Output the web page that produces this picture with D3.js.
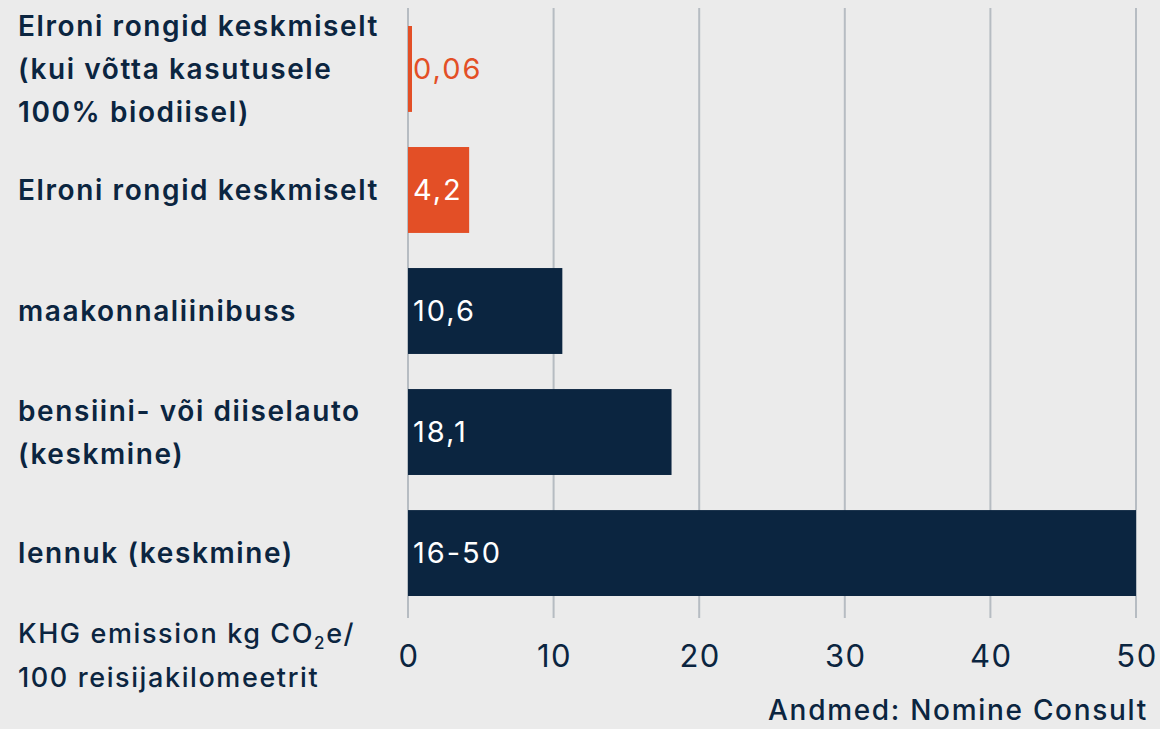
<!DOCTYPE html>
<html>
<head>
<meta charset="utf-8">
<script src="https://cdn.jsdelivr.net/npm/d3@7"></script>
<style>
  html, body { margin: 0; padding: 0; background: #ebebeb; }
  svg { display: block; }
  text { font-family: Inter, "Open Sans", sans-serif; fill: #0b2540; }
</style>
</head>
<body>
<div id="chart"></div>
<script>
// andmed
const categories = [
  "Elroni rongid keskmiselt (kui võtta kasutusele 100% biodiisel)",
  "Elroni rongid keskmiselt",
  "maakonnaliinibuss",
  "bensiini- või diiselauto (keskmine)",
  "lennuk (keskmine)"
];
const labelLines = [
  ["Elroni rongid keskmiselt", "(kui võtta kasutusele", "100% biodiisel)"],
  ["Elroni rongid keskmiselt"],
  ["maakonnaliinibuss"],
  ["bensiini- või diiselauto", "(keskmine)"],
  ["lennuk (keskmine)"]
];
const values = [0.06, 4.2, 10.6, 18.1, 50];
const valueLabels = ["0,06", "4,2", "10,6", "18,1", "16-50"];
const highlight = [true, true, false, false, false];
const ticks = [0, 10, 20, 30, 40, 50];

const W = 1160, H = 729;
const NAVY = "#0b2540", ORANGE = "#e34f26", GRID = "#b6bcc2";

const svg = d3.select("#chart").append("svg").attr("width", W).attr("height", H);
svg.append("rect").attr("width", W).attr("height", H).attr("fill", "#ebebeb");

const x = d3.scaleLinear().domain([0, 50]).range([408, 1136]);
const y = d3.scaleBand().domain(categories).range([26, 596]).paddingInner(0.29).paddingOuter(0);

// ruudustik
svg.append("g").selectAll("line").data(ticks).join("line")
  .attr("x1", d => x(d)).attr("x2", d => x(d))
  .attr("y1", 8).attr("y2", 618)
  .attr("stroke", GRID).attr("stroke-width", 2);

// telje sildid
svg.append("g").selectAll("text").data(ticks).join("text")
  .attr("x", d => x(d)).attr("y", 667).attr("dx", 1)
  .attr("text-anchor", "middle")
  .attr("font-size", 31).attr("letter-spacing", 1.5)
  .text(d => d);

// tulbad
svg.append("g").selectAll("rect").data(values).join("rect")
  .attr("x", x(0))
  .attr("y", (d, i) => y(categories[i]))
  .attr("width", d => Math.max(4, x(d) - x(0)))
  .attr("height", y.bandwidth())
  .attr("fill", (d, i) => highlight[i] ? ORANGE : NAVY);

// väärtused
svg.append("g").selectAll("text").data(values).join("text")
  .attr("x", x(0) + 5)
  .attr("y", (d, i) => y(categories[i]) + y.bandwidth() / 2)
  .attr("dy", "0.36em")
  .attr("font-size", 29).attr("letter-spacing", 2)
  .style("fill", (d, i) => (x(d) - x(0) < 20) ? ORANGE : "#ffffff")
  .text((d, i) => valueLabels[i]);

// kategooriad
const lh = 43;
const cat = svg.append("g").selectAll("text").data(labelLines).join("text")
  .attr("font-size", 28).attr("font-weight", 600).attr("letter-spacing", 1.6);
cat.each(function (lines, i) {
  const cy = y(categories[i]) + y.bandwidth() / 2;
  const t0 = cy - (lines.length - 1) * lh / 2;
  d3.select(this).selectAll("tspan").data(lines).join("tspan")
    .attr("x", 18)
    .attr("y", (l, k) => t0 + k * lh)
    .attr("dy", "0.36em")
    .text(l => l);
});

// telje pealkiri
const title = svg.append("text").attr("font-size", 27).attr("font-weight", 500).attr("letter-spacing", 1.6);
const l1 = title.append("tspan").attr("x", 18).attr("y", 643);
l1.append("tspan").text("KHG emission kg CO");
l1.append("tspan").attr("font-size", 17).attr("dy", 6).text("2");
l1.append("tspan").attr("dy", -6).text("e/");
title.append("tspan").attr("x", 18).attr("y", 687).text("100 reisijakilomeetrit");

// allikas
svg.append("text").attr("x", 1148).attr("y", 720)
  .attr("text-anchor", "end").attr("font-size", 28).attr("font-weight", 500)
  .attr("letter-spacing", 1.7)
  .text("Andmed: Nomine Consult");
</script>
</body>
</html>
